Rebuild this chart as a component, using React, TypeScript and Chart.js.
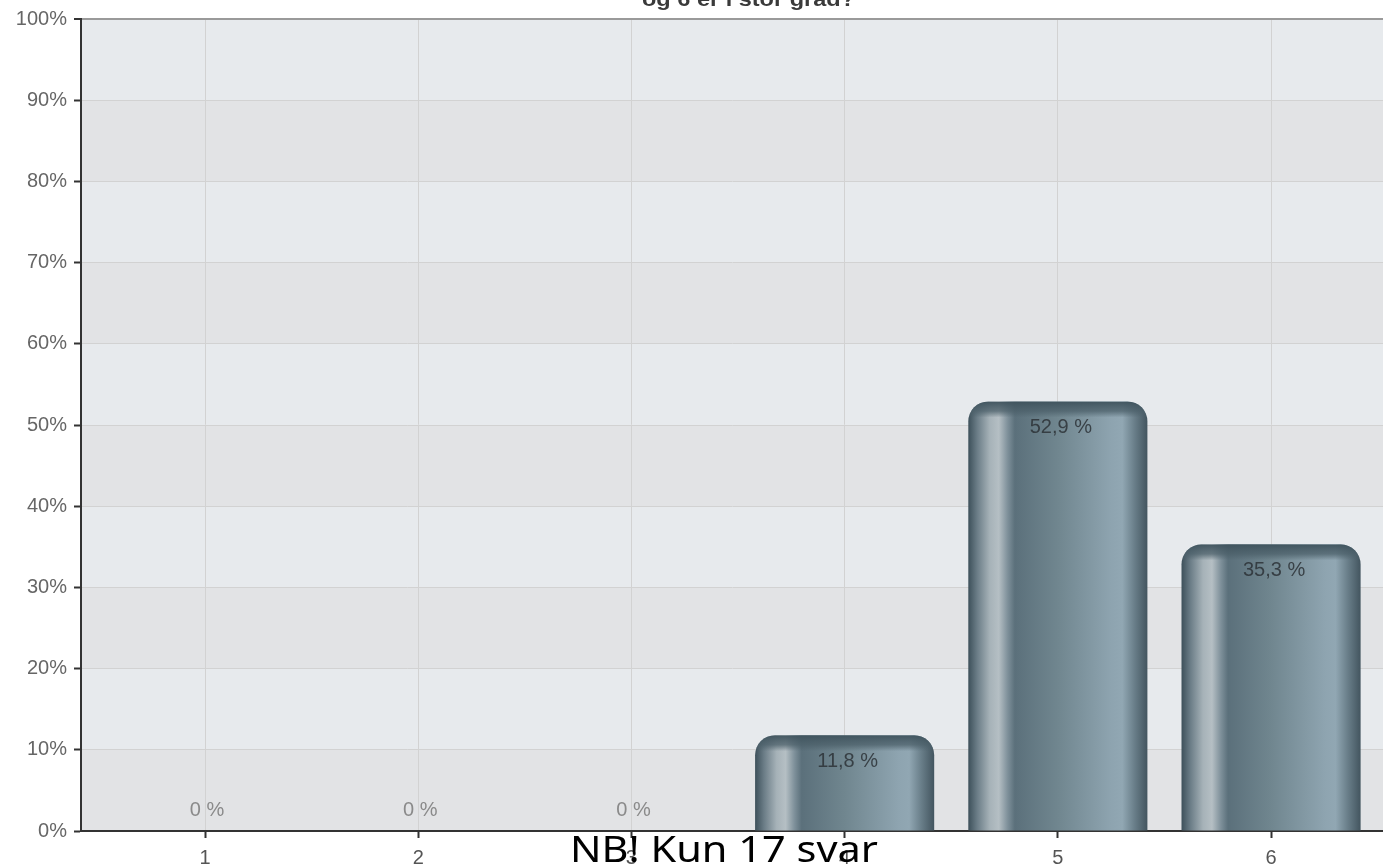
import { useEffect, useRef } from "react";
import { Chart, registerables } from "chart.js";

Chart.register(...registerables);

const categories = [1, 2, 3, 4, 5, 6];
const values = [0, 0, 0, 11.8, 52.9, 35.3];
const valueLabels = ["0 %", "0 %", "0 %", "11,8 %", "52,9 %", "35,3 %"];
const yTickValues = [0, 10, 20, 30, 40, 50, 60, 70, 80, 90, 100];
const titleText = "og 6 er i stor grad?";
const noteText = "NB! Kun 17 svar";

const BAR_STOPS: [number, string][] = [
  [0, "#3d505a"],
  [0.05, "#6b7d87"],
  [0.12, "#a6b2b8"],
  [0.17, "#b5bfc4"],
  [0.22, "#7e909a"],
  [0.26, "#5b707b"],
  [0.5, "#70868f"],
  [0.8, "#8ea4b0"],
  [0.86, "#91a7b3"],
  [0.93, "#687d88"],
  [1, "#43555f"],
];

const bandsPlugin = {
  id: "bands",
  beforeDraw(chart: any) {
    const { ctx, chartArea } = chart;
    const y = chart.scales.y;
    ctx.save();
    for (let i = 0; i < yTickValues.length - 1; i++) {
      const v0 = yTickValues[i];
      const v1 = yTickValues[i + 1];
      const top = y.getPixelForValue(v1);
      const bot = y.getPixelForValue(v0);
      ctx.fillStyle = i % 2 === 0 ? "#e2e3e5" : "#e7eaed";
      ctx.fillRect(chartArea.left, top, chartArea.right - chartArea.left, bot - top);
    }
    ctx.restore();
  },
};

const labelsPlugin = {
  id: "barLabels",
  afterDatasetsDraw(chart: any) {
    const { ctx } = chart;
    const meta = chart.getDatasetMeta(0);
    ctx.save();
    meta.data.forEach((el: any, i: number) => {
      if (values[i] <= 0) return;
      const w = el.width;
      const left = el.x - w / 2;
      const top = el.y;
      const h = el.base - el.y;
      ctx.save();
      ctx.beginPath();
      (ctx as any).roundRect(left, top, w, h, [20, 20, 0, 0]);
      ctx.clip();
      const g = ctx.createLinearGradient(0, top, 0, top + 16);
      g.addColorStop(0, "rgba(62,82,92,0.95)");
      g.addColorStop(0.6, "rgba(75,95,105,0.75)");
      g.addColorStop(1, "rgba(75,95,105,0)");
      ctx.fillStyle = g;
      ctx.fillRect(left, top, w, 16);
      ctx.restore();
    });
    ctx.font = "20px Arial, 'Liberation Sans', sans-serif";
    ctx.textAlign = "center";
    ctx.textBaseline = "middle";
    meta.data.forEach((el: any, i: number) => {
      if (values[i] > 0) {
        ctx.fillStyle = "rgba(45,50,55,0.85)";
        ctx.fillText(valueLabels[i], el.x + 3, el.y + 26);
      } else {
        ctx.fillStyle = "#8a8a8a";
        ctx.fillText(valueLabels[i], el.x + 2, el.base - 21);
      }
    });
    ctx.restore();
  },
  afterDraw(chart: any) {
    const { ctx } = chart;
    ctx.save();
    ctx.font = "bold 21px Arial, 'Liberation Sans', sans-serif";
    ctx.fillStyle = "#3a3a3a";
    ctx.textBaseline = "alphabetic";
    const tw = ctx.measureText(titleText).width;
    ctx.save();
    ctx.translate(642, 6);
    ctx.scale(213 / tw, 1);
    ctx.textAlign = "left";
    ctx.fillText(titleText, 0, 0);
    ctx.restore();
    ctx.font = "36px 'Noto Sans', 'Open Sans', sans-serif";
    ctx.fillStyle = "#000";
    const nw = ctx.measureText(noteText).width;
    ctx.translate(570, 862);
    ctx.scale(308 / nw, 1);
    ctx.textAlign = "left";
    ctx.fillText(noteText, 0, 0);
    ctx.restore();
  },
};

export default function App() {
  const ref = useRef<HTMLCanvasElement | null>(null);

  useEffect(() => {
    if (!ref.current) return;
    const chart = new Chart(ref.current, {
      type: "bar",
      data: {
        datasets: [
          {
            data: categories.map((c, i) => ({ x: c, y: values[i] })),
            backgroundColor: (ctx: any) => {
              const chart = ctx.chart;
              const xs = chart.scales?.x;
              if (!chart.chartArea || !xs || ctx.dataIndex === undefined) return "#6f8591";
              const c = categories[ctx.dataIndex];
              const unit = xs.getPixelForValue(1) - xs.getPixelForValue(0);
              const cx = xs.getPixelForValue(c);
              const half = (unit * 0.84) / 2;
              const g = chart.ctx.createLinearGradient(cx - half, 0, cx + half, 0);
              BAR_STOPS.forEach(([o, col]) => g.addColorStop(o, col));
              return g;
            },
            borderRadius: { topLeft: 20, topRight: 20, bottomLeft: 0, bottomRight: 0 },
            borderSkipped: "bottom",
            barPercentage: 0.84,
            categoryPercentage: 1,
          } as any,
        ],
      },
      options: {
        responsive: false,
        animation: false,
        devicePixelRatio: 1,
        layout: { padding: { top: 16, left: 0, right: 0, bottom: 0 } },
        plugins: {
          legend: { display: false },
          tooltip: { enabled: false },
          title: { display: false },
        },
        scales: {
          x: {
            type: "linear",
            offset: false,
            min: 0.4184,
            max: 6.525,
            afterBuildTicks: (s: any) => {
              s.ticks = categories.map((v) => ({ value: v }));
            },
            afterFit: (s: any) => {
              s.height = 36;
            },
            ticks: {
              color: "#555",
              font: { family: "Arial, 'Liberation Sans', sans-serif", size: 20 },
              padding: 8,
              callback: (v: any) => String(v),
            },
            grid: {
              offset: false,
              color: "#d2d2d2",
              lineWidth: 1,
              drawTicks: true,
              tickLength: 7,
              tickColor: "#333",
              tickWidth: 2,
            },
            border: { display: true, color: "#333", width: 2 },
          },
          y: {
            min: 0,
            max: 100,
            afterBuildTicks: (s: any) => {
              s.ticks = yTickValues.map((v) => ({ value: v }));
            },
            afterFit: (s: any) => {
              s.width = 81;
            },
            ticks: {
              color: "#666",
              font: { family: "Arial, 'Liberation Sans', sans-serif", size: 20 },
              padding: 7,
              callback: (v: any) => v + "%",
            },
            grid: {
              color: (c: any) => (c.tick && c.tick.value === 100 ? "#9a9a9a" : "#d2d2d2"),
              lineWidth: (c: any) => (c.tick && c.tick.value === 100 ? 2 : 1),
              drawTicks: true,
              tickLength: 7,
              tickColor: "#333",
              tickWidth: 2,
            },
            border: { display: true, color: "#333", width: 2 },
          },
        },
      },
      plugins: [bandsPlugin, labelsPlugin],
    });
    return () => chart.destroy();
  }, []);

  return (
    <div style={{ position: "absolute", left: 0, top: 0, width: 1383, height: 867, background: "#fff" }}>
      <canvas ref={ref} width={1383} height={867} style={{ display: "block" }} />
    </div>
  );
}
